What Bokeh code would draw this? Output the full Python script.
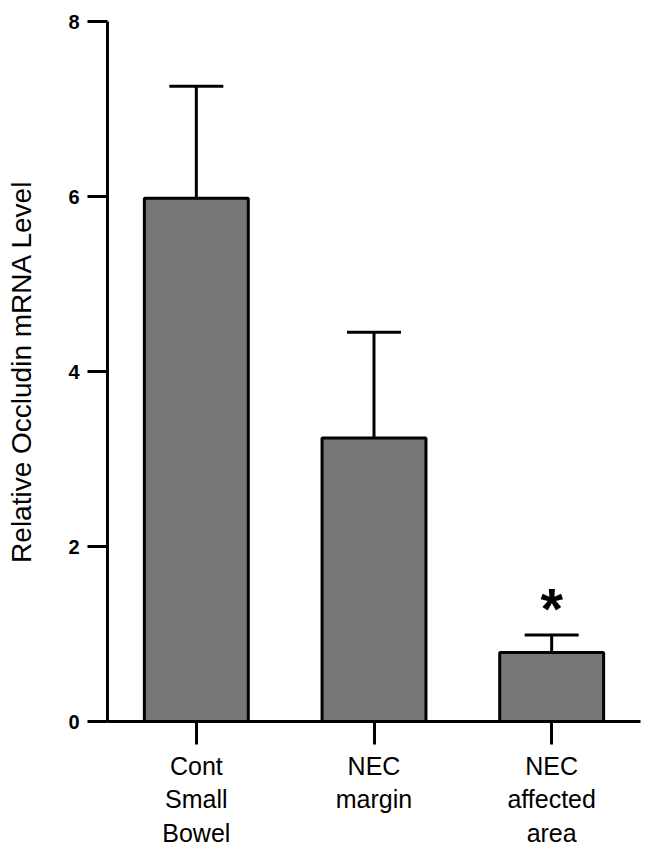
from bokeh.plotting import figure
from bokeh.models import FixedTicker, Whisker, TeeHead, ColumnDataSource, Range1d
from bokeh.core.properties import value
from bokeh.embed import file_html
from bokeh.resources import INLINE

categories = ["Cont\nSmall\nBowel", "NEC\nmargin", "NEC\naffected\narea"]
means = [5.98, 3.24, 0.79]
errors = [1.28, 1.21, 0.20]
significance = ["", "", "*"]
y_ticks = [0, 2, 4, 6, 8]

xs = list(range(len(categories)))
uppers = [m + e for m, e in zip(means, errors)]

src = ColumnDataSource(dict(x=xs, top=means, upper=uppers, lower=means,
                            sig=significance, sig_y=[u + 0.30 for u in uppers]))

FONT = "Liberation Sans"

p = figure(width=641, height=849, output_backend="svg", toolbar_location=None,
           x_range=Range1d(-0.5, 2.5), y_range=Range1d(0, 8),
           min_border_left=107, min_border_right=1, min_border_top=21, min_border_bottom=127)
p.outline_line_color = None
p.xgrid.grid_line_color = None
p.ygrid.grid_line_color = None
p.background_fill_color = "white"
p.border_fill_color = "white"

p.vbar(x="x", top="top", width=0.585, bottom=0, source=src,
       fill_color="#767676", line_color="black", line_width=3)

w = Whisker(base="x", upper="upper", lower="lower", source=src, dimension="height",
            line_color="black", line_width=3, level="underlay",
            upper_head=TeeHead(size=54, line_width=3, line_color="black"),
            lower_head=None)
p.add_layout(w)

p.text(x="x", y="sig_y", text="sig", source=src, text_font=value(FONT),
       text_font_size="58px", text_font_style="bold", text_align="center",
       text_baseline="alphabetic", text_color="black")

# y axis
ya = p.yaxis[0]
ya.ticker = FixedTicker(ticks=y_ticks)
ya.axis_line_width = 3
ya.major_tick_line_width = 3
ya.major_tick_out = 20
ya.major_tick_in = 0
ya.minor_tick_line_color = None
ya.major_label_text_font = FONT
ya.major_label_text_font_size = "20px"
ya.major_label_text_font_style = "bold"
ya.major_label_text_color = "black"
ya.major_label_standoff = 8
ya.axis_label = "Relative Occludin mRNA Level"
ya.axis_label_text_font = FONT
ya.axis_label_text_font_size = "28px"
ya.axis_label_text_font_style = "normal"
ya.axis_label_text_color = "black"
ya.axis_label_standoff = 28

# x axis
xa = p.xaxis[0]
xa.ticker = FixedTicker(ticks=xs)
xa.major_label_overrides = {i: c for i, c in zip(xs, categories)}
xa.axis_line_width = 3
xa.major_tick_line_width = 3
xa.major_tick_out = 23
xa.major_tick_in = 0
xa.minor_tick_line_color = None
xa.major_label_text_font = FONT
xa.major_label_text_font_size = "25px"
xa.major_label_text_color = "black"
xa.major_label_text_line_height = 1.2
xa.major_label_standoff = 7

open("out.html", "w").write(file_html(p, INLINE))
